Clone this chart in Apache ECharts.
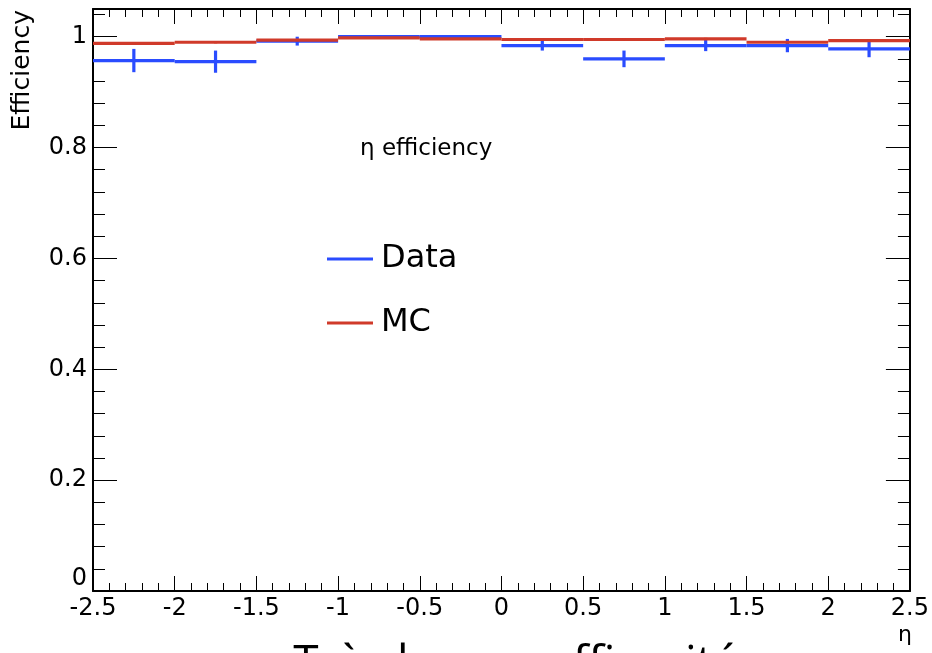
<!DOCTYPE html>
<html>
<head>
<meta charset="utf-8">
<script src="https://cdn.jsdelivr.net/npm/echarts@6/dist/echarts.min.js"></script>
<style>
  html, body { margin: 0; padding: 0; background: #fff; }
  #chart { width: 932px; height: 653px; }
</style>
</head>
<body>
<div id="chart"></div>
<script>
// Bin edges in eta (10 bins of width 0.5)
const binEdges = [-2.5, -2, -1.5, -1, -0.5, 0, 0.5, 1, 1.5, 2, 2.5];
// Efficiency per bin and its uncertainty
const dataEff = [0.957, 0.955, 0.992, 1.000, 1.000, 0.984, 0.960, 0.984, 0.984, 0.978];
const dataErr = [0.021, 0.020, 0.008, 0.002, 0.002, 0.009, 0.015, 0.010, 0.012, 0.015];
const mcEff   = [0.988, 0.990, 0.994, 0.998, 0.996, 0.995, 0.995, 0.996, 0.990, 0.993];
const mcErr   = [0.002, 0.002, 0.002, 0.001, 0.001, 0.001, 0.001, 0.002, 0.002, 0.002];
const yTicks = [0, 0.2, 0.4, 0.6, 0.8, 1];
const seriesNames = ['Data', 'MC'];

const BLUE = '#2a4cff';
const RED = '#d03a2a';
const FONT = 'DejaVu Sans';

function histRows(eff, err) {
  return eff.map((v, i) => [binEdges[i], binEdges[i + 1], v, err[i]]);
}

// Histogram drawn ROOT style: horizontal bar across the bin, vertical error at the centre
function renderBin(params, api) {
  const lo = api.value(0), hi = api.value(1), v = api.value(2), e = api.value(3);
  const mid = (lo + hi) / 2;
  const a = api.coord([lo, v]);
  const b = api.coord([hi, v]);
  const t = api.coord([mid, v + e]);
  const u = api.coord([mid, v - e]);
  const style = { stroke: api.visual('color'), lineWidth: 3.2, fill: null };
  return {
    type: 'group',
    children: [
      { type: 'line', shape: { x1: a[0], y1: a[1], x2: b[0], y2: b[1] }, style: style },
      { type: 'line', shape: { x1: t[0], y1: t[1], x2: u[0], y2: u[1] }, style: style }
    ]
  };
}

const chart = echarts.init(document.getElementById('chart'), null, { renderer: 'canvas' });

const axisLineStyle = { show: true, onZero: false, lineStyle: { color: '#000', width: 2 } };
const xTick = { show: true, inside: true, length: 15, lineStyle: { color: '#000', width: 1 } };
const xMinor = { show: true, splitNumber: 5, length: 8, lineStyle: { color: '#000', width: 1 } };
const yTick = { show: true, inside: true, length: 24, lineStyle: { color: '#000', width: 1 } };
const yMinor = { show: true, splitNumber: 5, length: 12, lineStyle: { color: '#000', width: 1 } };

chart.setOption({
  animation: false,
  backgroundColor: '#fff',
  textStyle: { fontFamily: FONT, color: '#000' },
  grid: { left: 93, right: 18, top: 9, bottom: 62, containLabel: false },
  title: {
    text: 'η efficiency',
    left: 355, top: 133,
    textStyle: { fontFamily: FONT, fontSize: 23, fontWeight: 'normal', color: '#000' }
  },
  legend: {
    orient: 'vertical',
    left: 322, top: 238,
    itemWidth: 46, itemHeight: 3, itemGap: 32,
    icon: 'rect',
    data: seriesNames,
    textStyle: { fontFamily: FONT, fontSize: 32, color: '#000', padding: [0, 0, 0, 3] }
  },
  xAxis: [
    {
      type: 'value', min: -2.5, max: 2.5, interval: 0.5,
      axisLine: axisLineStyle, axisTick: xTick, minorTick: xMinor,
      splitLine: { show: false },
      axisLabel: { fontFamily: FONT, fontSize: 24, color: '#000', margin: 6 }
    },
    {
      type: 'value', position: 'top', min: -2.5, max: 2.5, interval: 0.5,
      axisLine: axisLineStyle, axisTick: xTick, minorTick: xMinor,
      splitLine: { show: false },
      axisLabel: { show: false }
    }
  ],
  yAxis: [
    {
      type: 'value', min: 0, max: 1.05, interval: 0.2,
      axisLine: axisLineStyle, axisTick: yTick, minorTick: yMinor,
      splitLine: { show: false },
      axisLabel: {
        fontFamily: FONT, fontSize: 24, color: '#000', margin: 6,
        verticalAlignMinLabel: 'bottom',
        formatter: v => yTicks.some(t => Math.abs(t - v) < 1e-9) ? String(+v.toFixed(1)) : ''
      }
    },
    {
      type: 'value', position: 'right', min: 0, max: 1.05, interval: 0.2,
      axisLine: axisLineStyle, axisTick: yTick, minorTick: yMinor,
      splitLine: { show: false },
      axisLabel: { show: false }
    }
  ],
  series: [
    {
      name: seriesNames[0], type: 'custom', xAxisIndex: 0, yAxisIndex: 0,
      itemStyle: { color: BLUE }, color: BLUE,
      renderItem: renderBin, data: histRows(dataEff, dataErr), z: 2,
      encode: { x: [0, 1], y: 2 }
    },
    {
      name: seriesNames[1], type: 'custom', xAxisIndex: 0, yAxisIndex: 0,
      itemStyle: { color: RED }, color: RED,
      renderItem: renderBin, data: histRows(mcEff, mcErr), z: 3,
      encode: { x: [0, 1], y: 2 }
    }
  ],
  graphic: [
    {
      type: 'text', x: 22, y: 10, rotation: Math.PI / 2,
      style: { text: 'Efficiency', fontFamily: FONT, fontSize: 25, fill: '#000', align: 'right', verticalAlign: 'middle' }
    },
    {
      type: 'text', x: 905, y: 624,
      style: { text: 'η', fontFamily: FONT, fontSize: 22, fill: '#000', align: 'center', verticalAlign: 'top' }
    },
    {
      type: 'text', x: 516, y: 642,
      style: { text: 'Très bonne efficacité', fontFamily: 'Open Sans', fontSize: 46, fill: '#000', align: 'center', verticalAlign: 'top' }
    }
  ]
});
</script>
</body>
</html>
